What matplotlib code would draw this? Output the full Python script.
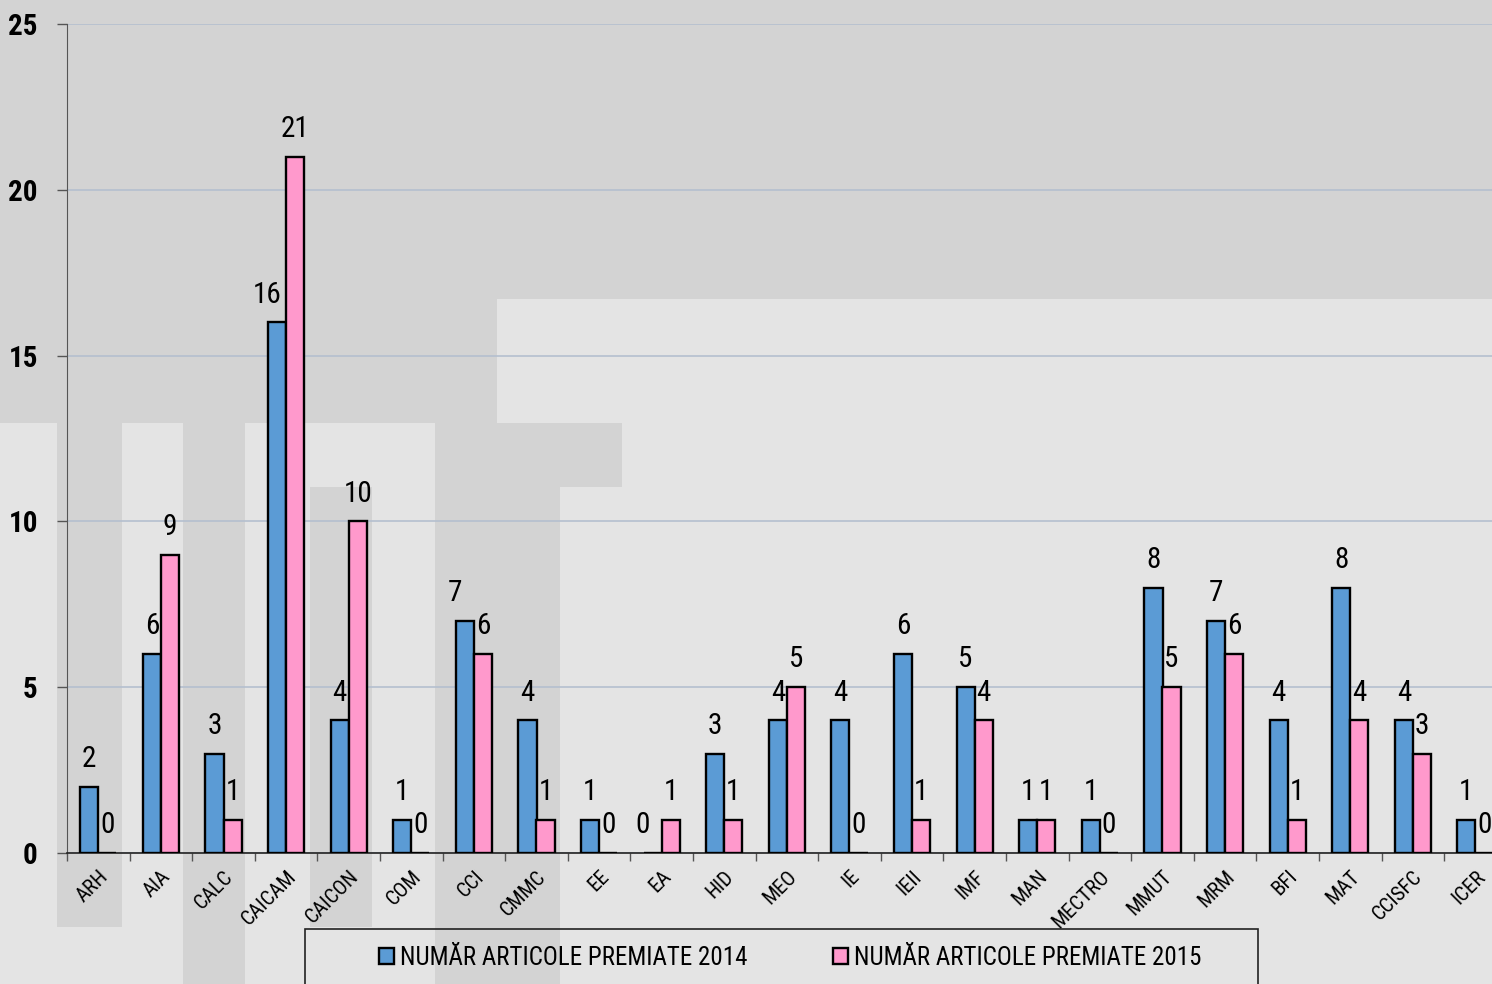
import matplotlib
matplotlib.use('Agg')
import matplotlib.pyplot as plt
from matplotlib.patches import Rectangle
import numpy as np

# Data
categories = ['ARH', 'AIA', 'CALC', 'CAICAM', 'CAICON', 'COM', 'CCI', 'CMMC',
              'EE', 'EA', 'HID', 'MEO', 'IE', 'IEII', 'IMF', 'MAN', 'MECTRO',
              'MMUT', 'MRM', 'BFI', 'MAT', 'CCISFC', 'ICER']
articole_2014 = [2, 6, 3, 16, 4, 1, 7, 4, 1, 0, 3, 4, 4, 6, 5, 1, 1, 8, 7, 4, 8, 4, 1]
articole_2015 = [0, 9, 1, 21, 10, 0, 6, 1, 0, 1, 1, 5, 0, 1, 4, 1, 0, 5, 6, 1, 4, 3, 0]
series_names = ['NUMĂR ARTICOLE PREMIATE 2014', 'NUMĂR ARTICOLE PREMIATE 2015']
y_ticks = [0, 5, 10, 15, 20, 25]

# a few 2014 labels sit left of their bar in the original (points)
shift_2014 = {'CAICAM': -7, 'CCI': -7, 'EA': -7}

W, H = 1492, 984
BLUE = '#5b9bd5'
PINK = '#ff99cc'
DARK_BG = '#d3d3d3'
LIGHT_BG = '#e4e4e4'

# condensed face like the original, DejaVu as last resort
plt.rcParams['font.family'] = ['Roboto Condensed', 'PT Sans Narrow',
                               'Liberation Sans Narrow', 'DejaVu Sans']


def fx(px):
    return px / W


def fy(py):
    return 1 - py / H


fig = plt.figure(figsize=(W / 100, H / 100), dpi=100)
fig.patch.set_facecolor(LIGHT_BG)

# watermark blocks behind the chart (pixel boxes x0, y0, x1, y1)
watermark = [(0, 0, 1492, 299), (0, 299, 497, 423),
             (57, 423, 122, 927), (183, 423, 245, 984),
             (310, 487, 372, 927), (435, 423, 560, 984),
             (497, 423, 622, 487)]
for x0, y0, x1, y1 in watermark:
    fig.patches.append(Rectangle((fx(x0), fy(y1)), fx(x1) - fx(x0), fy(y0) - fy(y1),
                                 transform=fig.transFigure, facecolor=DARK_BG,
                                 edgecolor='none', zorder=0))

ax = fig.add_axes([fx(67), fy(853), 1 - fx(67), fy(24) - fy(853)])
ax.set_facecolor('none')
ax.set_zorder(1)

x = np.arange(len(categories))
w = 0.29
b1 = ax.bar(x - w / 2, articole_2014, w, color=BLUE, edgecolor='black',
            linewidth=1.7, label=series_names[0], zorder=3)
b2 = ax.bar(x + w / 2, articole_2015, w, color=PINK, edgecolor='black',
            linewidth=1.7, label=series_names[1], zorder=3)

for bars, vals, shifts in ((b1, articole_2014, shift_2014), (b2, articole_2015, {})):
    for cat, rect, v in zip(categories, bars, vals):
        ax.annotate(str(v), (rect.get_x() + rect.get_width() / 2, v),
                    xytext=(shifts.get(cat, 0), 20), textcoords='offset points',
                    ha='center', va='center', fontsize=21, color='black',
                    annotation_clip=False)

ax.set_yticks(y_ticks)
ax.set_yticklabels([str(t) for t in y_ticks], fontsize=21, fontweight='bold')
ax.tick_params(axis='y', length=7, width=1, color='#555555', pad=14)
ax.yaxis.grid(True, color='#b4bfcf', linewidth=1.2, zorder=0)
ax.set_axisbelow(True)

ax.set_xticks(x)
ax.set_xticklabels(categories, rotation=45, ha='right', rotation_mode='anchor',
                   fontsize=15)
ax.tick_params(axis='x', length=0, pad=10)
ax.set_xticks(np.arange(len(categories) + 1) - 0.5, minor=True)
ax.tick_params(axis='x', which='minor', length=6, width=1, color='#555555')

# limits after the ticks, the last category runs past the right edge
ax.set_xlim(-0.5, -0.5 + (W - 67) / 62.6)
ax.set_ylim(0, 25)

for s in ('top', 'right'):
    ax.spines[s].set_visible(False)
ax.spines['left'].set_color('#555555')
ax.spines['bottom'].set_color('#222222')
ax.spines['bottom'].set_linewidth(1.2)

# legend frame that runs off the bottom edge
fig.patches.append(Rectangle((fx(305), fy(1000)), fx(1258) - fx(305), fy(929) - fy(1000),
                             transform=fig.transFigure, facecolor='none',
                             edgecolor='#222222', linewidth=1.2, zorder=5))
fig.legend(handles=[b1, b2], loc='center', bbox_to_anchor=(fx(790), fy(958)),
           ncol=2, frameon=False, fontsize=18, handlelength=0.6,
           handleheight=0.6, handletextpad=0.25, columnspacing=3.4)

fig.savefig('out.png', dpi=100, facecolor=fig.get_facecolor())
